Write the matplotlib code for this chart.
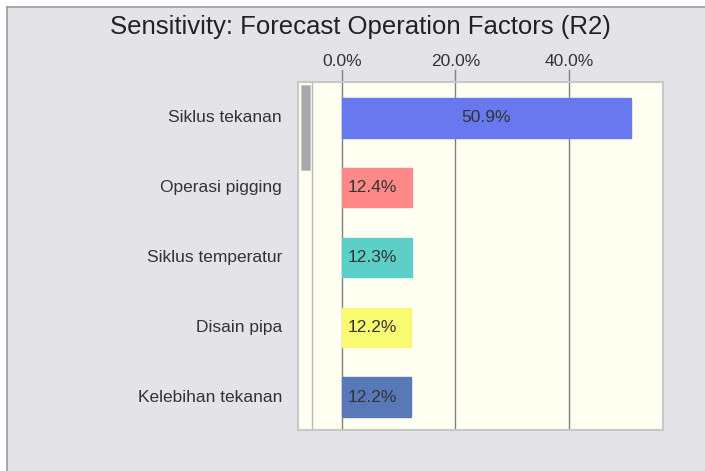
import matplotlib.pyplot as plt
from matplotlib.patches import Rectangle
from matplotlib.lines import Line2D

plt.rcParams['font.family'] = ['Liberation Sans', 'DejaVu Sans']

factors = ['Siklus tekanan', 'Operasi pigging', 'Siklus temperatur', 'Disain pipa', 'Kelebihan tekanan']
values = [50.9, 12.4, 12.3, 12.2, 12.2]
colors = ['#6878EE', '#FF8888', '#5CCFC8', '#FAFA70', '#5878B8']
ticks = [0, 20, 40]

W, H = 705, 471
fig = plt.figure(figsize=(W / 100, H / 100), dpi=100)
fig.patch.set_facecolor('white')

# grey window background with border line on left/top
bg = Rectangle((7 / W, 0), 1, 1 - 7 / H, transform=fig.transFigure,
               facecolor='#E4E3E8', edgecolor='none', zorder=-10)
fig.patches.append(bg)
fig.add_artist(Line2D([7 / W, 7 / W], [0, 1 - 7 / H], transform=fig.transFigure, color='#9A9A9E', lw=1.2))
fig.add_artist(Line2D([7 / W, 1], [1 - 7 / H, 1 - 7 / H], transform=fig.transFigure, color='#9A9A9E', lw=1.2))

# axes placed in pixels: left 298, right 663, top 82, bottom 430
l, r, t, b = 298, 663, 82, 430
ax = fig.add_axes([l / W, 1 - b / H, (r - l) / W, (b - t) / H])
ax.set_facecolor('#FFFFF2')

x0, px = 342, 113.5 / 20  # x pixel of 0%, pixels per percent
ax.set_xlim((l - x0) / px, (r - x0) / px)
n = len(factors)
ax.set_ylim(n - 1 + 0.473, -0.516)

ypos = list(range(n))
ax.barh(ypos, values, height=0.56, color=colors, edgecolor=colors, zorder=3)
for y, v in zip(ypos, values):
    if v > 30:
        ax.text(v / 2, y, '%.1f%%' % v, ha='center', va='center', fontsize=12.5, color='#333333', zorder=4)
    else:
        ax.text(1.0, y, '%.1f%%' % v, ha='left', va='center', fontsize=12.5, color='#333333', zorder=4)

# vertical grid lines, extending slightly above the panel
for tk in ticks:
    ax.axvline(tk, color='#808080', lw=1.0, zorder=2)
    ax.plot([tk, tk], [-0.516, -0.516 - 12 / 69.75], color='#808080', lw=1.0, clip_on=False, zorder=2)
    ax.text(tk, -0.516 - 13 / 69.75, '%.1f%%' % tk, ha='center', va='bottom', fontsize=12.5, color='#333333')

# scroll area on the left of the panel
xs = (312 - x0) / px
ax.axvline(xs, color='#B8B8B8', lw=1.0, zorder=2)
ax.add_patch(Rectangle(((301 - x0) / px, -0.516 + 3 / 69.75), 8.5 / px, 85 / 69.75,
                       facecolor='#A8A8AC', edgecolor='#C8C8C8', lw=0.8, zorder=3))

ax.set_xticks([])
ax.set_yticks([])
for s in ax.spines.values():
    s.set_color('#C8C8C8')
    s.set_linewidth(1.5)

for y, name in zip(ypos, factors):
    ax.text((282 - x0) / px, y, name, ha='right', va='center', fontsize=12.5, color='#333333', clip_on=False)

fig.text(360 / W, 1 - 27 / H, 'Sensitivity: Forecast Operation Factors (R2)', ha='center', va='center',
         fontsize=18.5, color='#222222')

plt.savefig('out.png', dpi=100)
